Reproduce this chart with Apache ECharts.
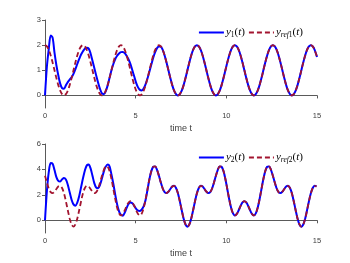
<!DOCTYPE html>
<html><head><meta charset="utf-8">
<script src="https://cdn.jsdelivr.net/npm/echarts@6/dist/echarts.min.js"></script>
<style>html,body{margin:0;padding:0;background:#fff}#c{width:350px;height:263px}</style>
</head><body><div id="c"></div>
<script>
const t = [0,0.105,0.209,0.314,0.419,0.524,0.628,0.733,0.838,0.942,
1.047,1.152,1.257,1.361,1.466,1.571,1.676,1.780,1.885,1.990,
2.094,2.199,2.304,2.409,2.513,2.618,2.723,2.827,2.932,3.037,
3.142,3.246,3.351,3.456,3.560,3.665,3.770,3.875,3.979,4.084,
4.189,4.294,4.398,4.503,4.608,4.712,4.817,4.922,5.027,5.131,
5.236,5.341,5.445,5.550,5.655,5.760,5.864,5.969,6.074,6.178,
6.283,6.388,6.493,6.597,6.702,6.807,6.912,7.016,7.121,7.226,
7.330,7.435,7.540,7.645,7.749,7.854,7.959,8.063,8.168,8.273,
8.378,8.482,8.587,8.692,8.796,8.901,9.006,9.111,9.215,9.320,
9.425,9.529,9.634,9.739,9.844,9.948,10.053,10.158,10.263,10.367,
10.472,10.577,10.681,10.786,10.891,10.996,11.100,11.205,11.310,11.414,
11.519,11.624,11.729,11.833,11.938,12.043,12.147,12.252,12.357,12.462,
12.566,12.671,12.776,12.881,12.985,13.090,13.195,13.299,13.404,13.509,
13.614,13.718,13.823,13.928,14.032,14.137,14.242,14.347,14.451,14.556,
14.661,14.765,14.870,14.975,15];

const y1 = [0,1.15,1.85,2.38,2.3,1.7,1.2,0.8,0.47,0.29,
0.27,0.4,0.53,0.63,0.72,0.86,1.05,1.25,1.45,1.63,
1.76,1.86,1.9,1.86,1.67,1.38,1.08,0.78,0.5,0.25,
0.08,0.05,0.17,0.4,0.7,1.0,1.25,1.45,1.58,1.67,
1.72,1.73,1.68,1.57,1.43,1.25,1.0,0.75,0.5,0.32,
0.22,0.2,0.28,0.45,0.68,0.95,1.23,1.5,1.72,1.88,
1.95,1.94,1.81,1.59,1.31,1,0.69,0.41,0.19,0.05,
0,0.05,0.19,0.41,0.69,1,1.31,1.59,1.81,1.95,
2,1.95,1.81,1.59,1.31,1,0.69,0.41,0.19,0.05,
0,0.05,0.19,0.41,0.69,1,1.31,1.59,1.81,1.95,
2,1.95,1.81,1.59,1.31,1,0.69,0.41,0.19,0.05,
0,0.05,0.19,0.41,0.69,1,1.31,1.59,1.81,1.95,
2,1.95,1.81,1.59,1.31,1,0.69,0.41,0.19,0.05,
0,0.05,0.19,0.41,0.69,1,1.31,1.59,1.81,1.95,
2,1.95,1.81,1.59,1.53];

const yref1 = [2,1.95,1.81,1.59,1.31,1,0.69,0.41,0.19,0.05,
0,0.05,0.19,0.41,0.69,1,1.31,1.59,1.81,1.95,
2,1.95,1.81,1.59,1.31,1,0.69,0.41,0.19,0.05,
0,0.05,0.19,0.41,0.69,1,1.31,1.59,1.81,1.95,
2,1.95,1.81,1.59,1.31,1,0.69,0.41,0.19,0.05,
0,0.05,0.19,0.41,0.69,1,1.31,1.59,1.81,1.95,
2,1.95,1.81,1.59,1.31,1,0.69,0.41,0.19,0.05,
0,0.05,0.19,0.41,0.69,1,1.31,1.59,1.81,1.95,
2,1.95,1.81,1.59,1.31,1,0.69,0.41,0.19,0.05,
0,0.05,0.19,0.41,0.69,1,1.31,1.59,1.81,1.95,
2,1.95,1.81,1.59,1.31,1,0.69,0.41,0.19,0.05,
0,0.05,0.19,0.41,0.69,1,1.31,1.59,1.81,1.95,
2,1.95,1.81,1.59,1.31,1,0.69,0.41,0.19,0.05,
0,0.05,0.19,0.41,0.69,1,1.31,1.59,1.81,1.95,
2,1.95,1.81,1.59,1.53];

const y2 = [0,2.3,3.8,4.5,4.45,3.95,3.4,3.1,3.06,3.22,
3.32,3.2,2.8,2.2,1.62,1.25,1.15,1.38,1.9,2.6,
3.3,3.92,4.32,4.38,4.08,3.5,2.9,2.56,2.52,2.8,
3.3,3.85,4.22,4.38,4.25,3.6,2.85,2.0,1.25,0.7,
0.42,0.36,0.6,0.97,1.28,1.4,1.34,1.13,0.9,0.76,
0.74,0.86,1.12,1.62,2.42,3.25,3.87,4.21,4.24,3.97,
3.5,2.97,2.5,2.21,2.14,2.25,2.46,2.66,2.71,2.54,
2.12,1.5,0.79,0.13,-0.33,-0.5,-0.33,0.13,0.79,1.5,
2.12,2.54,2.71,2.66,2.46,2.25,2.14,2.21,2.5,2.97,
3.5,3.97,4.24,4.21,3.87,3.25,2.46,1.66,0.98,0.54,
0.38,0.5,0.79,1.13,1.4,1.5,1.4,1.13,0.79,0.5,
0.38,0.54,0.98,1.66,2.46,3.25,3.87,4.21,4.24,3.97,
3.5,2.97,2.5,2.21,2.14,2.25,2.46,2.66,2.71,2.54,
2.12,1.5,0.79,0.13,-0.33,-0.5,-0.33,0.13,0.79,1.5,
2.12,2.54,2.71,2.66,2.62];

const yref2 = [3.5,2.97,2.5,2.21,2.14,2.25,2.46,2.66,2.71,2.54,
2.12,1.5,0.79,0.13,-0.33,-0.5,-0.33,0.13,0.79,1.5,
2.12,2.54,2.71,2.66,2.46,2.25,2.14,2.21,2.5,2.97,
3.5,3.97,4.24,4.21,3.87,3.25,2.46,1.66,0.98,0.54,
0.38,0.5,0.79,1.13,1.4,1.5,1.4,1.13,0.79,0.5,
0.38,0.54,0.98,1.66,2.46,3.25,3.87,4.21,4.24,3.97,
3.5,2.97,2.5,2.21,2.14,2.25,2.46,2.66,2.71,2.54,
2.12,1.5,0.79,0.13,-0.33,-0.5,-0.33,0.13,0.79,1.5,
2.12,2.54,2.71,2.66,2.46,2.25,2.14,2.21,2.5,2.97,
3.5,3.97,4.24,4.21,3.87,3.25,2.46,1.66,0.98,0.54,
0.38,0.5,0.79,1.13,1.4,1.5,1.4,1.13,0.79,0.5,
0.38,0.54,0.98,1.66,2.46,3.25,3.87,4.21,4.24,3.97,
3.5,2.97,2.5,2.21,2.14,2.25,2.46,2.66,2.71,2.54,
2.12,1.5,0.79,0.13,-0.33,-0.5,-0.33,0.13,0.79,1.5,
2.12,2.54,2.71,2.66,2.62];

const xTicks = [0,5,10,15];
const yTicksTop = [0,1,2,3];
const yTicksBottom = [0,2,4,6];
const xLabel = 'time t';

const pairs = ys => t.map((v,i)=>[v, ys[i]]);
const chart = echarts.init(document.getElementById('c'));
const axCol = '#5a5a5a';
const lblCol = '#404040';
const sans = 'Liberation Sans';
const serif = 'Liberation Serif';

function xAx(g){
  return {type:'value', gridIndex:g, min:0, max:15, interval:5,
    name:xLabel, nameLocation:'middle', nameGap:16.5,
    nameTextStyle:{fontFamily:sans, fontSize:9, color:lblCol},
    axisLine:{lineStyle:{color:axCol, width:1}},
    axisTick:{length:3, lineStyle:{color:axCol}, customValues:xTicks},
    axisLabel:{fontFamily:sans, fontSize:7.5, color:lblCol, margin:4, customValues:xTicks},
    splitLine:{show:false}};
}
function yAx(g, mn, mx, ticks){
  return {type:'value', gridIndex:g, min:mn, max:mx,
    axisLine:{show:true, lineStyle:{color:axCol, width:1}},
    axisTick:{show:true, length:3, lineStyle:{color:axCol}, customValues:ticks},
    axisLabel:{fontFamily:sans, fontSize:7.5, color:lblCol, margin:4, customValues:ticks},
    splitLine:{show:false}};
}
const labels = {
  y1:'{i|y}{s|1}{n|(}{i|t}{n|)}',
  yref1:'{i|y}{si|ref}{s|1}{n|(}{i|t}{n|)}',
  y2:'{i|y}{s|2}{n|(}{i|t}{n|)}',
  yref2:'{i|y}{si|ref}{s|2}{n|(}{i|t}{n|)}'
};
const rich = {
  i:{fontFamily:serif, fontStyle:'italic', fontSize:11, color:'#000'},
  n:{fontFamily:serif, fontSize:11, color:'#000'},
  s:{fontFamily:serif, fontSize:7.5, color:'#000', padding:[6,0,0,0]},
  si:{fontFamily:serif, fontStyle:'italic', fontSize:7.5, color:'#000', padding:[6,0,0,0]}
};
function leg(names, top){
  return {data:names, top:top, right:42, itemWidth:25, itemHeight:8, itemGap:3,
    itemStyle:{opacity:0},
    formatter:n=>labels[n], textStyle:{rich:rich, padding:[0,0,0,-3]}};
}
const blue = '#0000ff', red = '#a2142f';
function ser(name, ys, g, dashed){
  return {name:name, type:'line', xAxisIndex:g, yAxisIndex:g, data:pairs(ys),
    symbol:'none', smooth:0.3, animation:false,
    lineStyle:{color:dashed?red:blue, width:dashed?1.8:2, type:dashed?[5,3]:'solid'},
    itemStyle:{color:dashed?red:blue}};
}
chart.setOption({
  backgroundColor:'#fff',
  animation:false,
  grid:[{left:45, width:272, top:20, height:88},
        {left:45, width:272, top:144, height:89}],
  xAxis:[xAx(0), xAx(1)],
  yAxis:[yAx(0,-0.5,3,yTicksTop), yAx(1,-1,6,yTicksBottom)],
  legend:[leg(['y1','yref1'], 22), leg(['y2','yref2'], 147)],
  series:[ser('y1',y1,0,false), ser('yref1',yref1,0,true),
          ser('y2',y2,1,false), ser('yref2',yref2,1,true)]
});
</script></body></html>
